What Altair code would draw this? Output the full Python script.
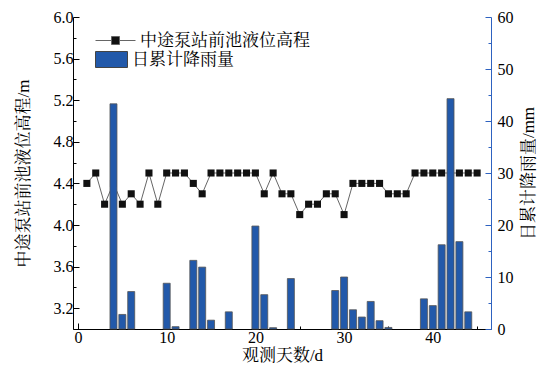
import altair as alt
import pandas as pd

# Water level at the pump station forebay (m), days 1..45
level_days = list(range(1, 46))
level_values = [4.4, 4.5, 4.2, 4.4, 4.2, 4.3, 4.2, 4.5, 4.2, 4.5,
                4.5, 4.5, 4.4, 4.3, 4.5, 4.5, 4.5, 4.5, 4.5, 4.5,
                4.3, 4.5, 4.3, 4.3, 4.1, 4.2, 4.2, 4.3, 4.3, 4.1,
                4.4, 4.4, 4.4, 4.4, 4.3, 4.3, 4.3, 4.5, 4.5, 4.5,
                4.5, 4.5, 4.5, 4.5, 4.5]

# Daily cumulative rainfall (mm)
rain_days = [4, 5, 6, 10, 11, 13, 14, 15, 17, 20, 21, 22, 24,
             29, 30, 31, 32, 33, 34, 35, 39, 40, 41, 42, 43, 44]
rain_values = [43.3, 2.8, 7.2, 8.8, 0.45, 13.2, 11.9, 1.7, 3.3, 19.8, 6.6, 0.25, 9.7,
               7.4, 10.0, 3.7, 2.3, 5.3, 1.6, 0.3, 5.8, 4.5, 16.2, 44.3, 16.8, 3.3]

level_name = "中途泵站前池液位高程"
rain_name = "日累计降雨量"

x_title = "观测天数/d"
left_title = "中途泵站前池液位高程/m"
right_title = "日累计降雨量/mm"

level_df = pd.DataFrame({"day": level_days, "level": level_values, "s": level_name})
rain_df = pd.DataFrame({"day": rain_days, "rain": rain_values, "s": rain_name})

SERIF = "Liberation Serif, Noto Serif CJK SC, Noto Sans CJK SC"
BLUE = "#2259aa"
AXBLUE = "#2e62c0"

x_enc = alt.X(
    "day:Q",
    scale=alt.Scale(domain=[0, 46], nice=False, zero=False),
    axis=alt.Axis(
        title=x_title, values=list(range(0, 46, 5)),
        labelExpr="datum.value % 10 === 0 ? datum.label : ''",
        tickSize={"condition": {"test": "datum.value % 10 === 0", "value": -6}, "value": -3},
        labelPadding=6, titlePadding=2, grid=False,
        domainColor="black", tickColor="black",
    ),
)

left_axis = alt.Axis(
    title=left_title, orient="left",
    values=[round(3.0 + 0.2 * i, 1) for i in range(16)],
    labelExpr="abs((datum.value - 3.2) / 0.4 - round((datum.value - 3.2) / 0.4)) < 0.01 ? format(datum.value, '.1f') : ''",
    tickSize={"condition": {"test": "abs((datum.value - 3.2) / 0.4 - round((datum.value - 3.2) / 0.4)) < 0.01", "value": -6}, "value": -3},
    labelPadding=6, titlePadding=21, grid=False,
    domainColor="black", tickColor="black",
)

right_axis = alt.Axis(
    title=right_title, orient="right",
    values=list(range(0, 61, 5)),
    labelExpr="datum.value % 10 === 0 ? datum.label : ''",
    tickSize={"condition": {"test": "datum.value % 10 === 0", "value": -6}, "value": -3},
    labelPadding=12, titlePadding=24, grid=False, titleAngle=270,
    domainColor=AXBLUE, tickColor=AXBLUE,
)

y_level = alt.Y("level:Q", scale=alt.Scale(domain=[3.0, 6.0], nice=False, zero=False), axis=left_axis)

line = alt.Chart(level_df).mark_line(color="#666666", strokeWidth=1).encode(
    x=x_enc,
    y=y_level,
)

points = alt.Chart(level_df).mark_square(size=50, opacity=1).encode(
    x=alt.X("day:Q"),
    y=y_level,
    color=alt.Color(
        "s:N",
        scale=alt.Scale(domain=[level_name], range=["#111111"]),
        legend=alt.Legend(
            title=None, orient="none", legendX=22, legendY=3,
            symbolType="M-1,0H-0.22M0.22,0H1M-0.2,-0.2H0.2V0.2H-0.2Z",
            symbolSize=1600, symbolStrokeColor="#666666", symbolStrokeWidth=1,
            symbolOpacity=1, labelLimit=0,
            labelFont=SERIF, labelFontSize=17, labelColor="black", labelOffset=4,
            padding=0,
        ),
    ),
)

bars = alt.Chart(rain_df).mark_bar(size=7, stroke="#555555", strokeWidth=0.8, opacity=1).encode(
    x=alt.X("day:Q"),
    y=alt.Y("rain:Q", scale=alt.Scale(domain=[0, 60], nice=False), axis=right_axis),
    color=alt.Color(
        "s:N",
        scale=alt.Scale(domain=[rain_name], range=[BLUE]),
        legend=alt.Legend(
            title=None, orient="none", legendX=22, legendY=26,
            symbolType="M-1,-0.5H1V0.5H-1Z",
            symbolSize=1024, symbolStrokeColor="#444444", symbolStrokeWidth=1,
            symbolOpacity=1, labelLimit=0,
            labelFont=SERIF, labelFontSize=17, labelColor="black", labelOffset=4,
            padding=0,
        ),
    ),
)

level_layer = alt.layer(line, points)

chart = (
    alt.layer(level_layer, bars)
    .resolve_scale(y="independent", color="independent")
    .properties(
        width=418, height=312,
        autosize=alt.AutoSizeParams(type="none"),
        padding={"left": 65, "top": 9, "right": 55, "bottom": 40},
    )
    .configure_view(stroke=None)
    .configure_axis(
        labelFont=SERIF, labelFontSize=16, labelColor="black",
        titleFont=SERIF, titleFontSize=17, titleColor="black", titleFontWeight="normal",
        domainWidth=1, tickWidth=1,
    )
)

chart.save("out.html", embed_options={"renderer": "svg", "actions": False})
